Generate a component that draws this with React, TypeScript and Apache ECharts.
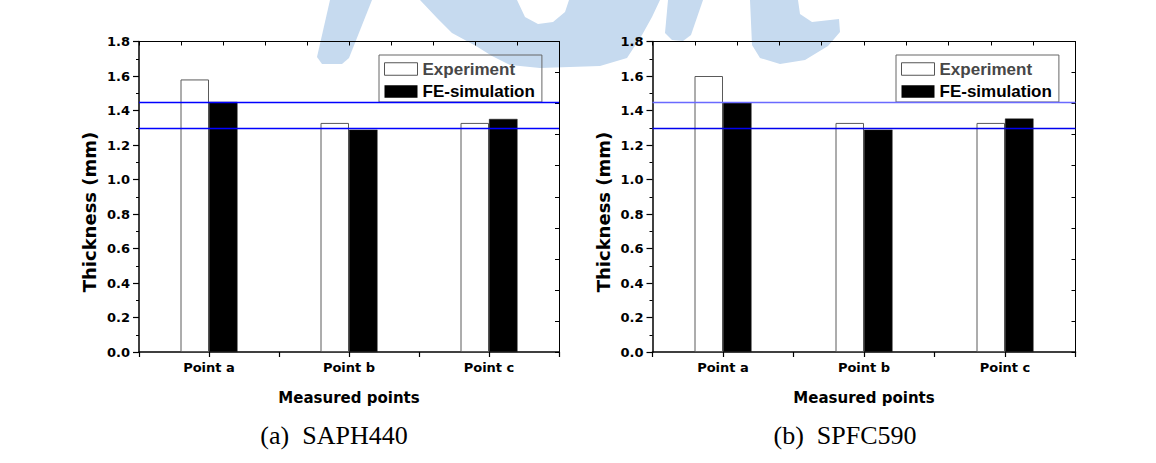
import React, { useEffect, useRef } from 'react';
import * as echarts from 'echarts';

// ---------- data ----------
const categories = ['Point a', 'Point b', 'Point c'];
const saphExperiment = [1.58, 1.328, 1.328];
const saphSimulation = [1.45, 1.289, 1.351];
const spfcExperiment = [1.6, 1.328, 1.328];
const spfcSimulation = [1.446, 1.289, 1.353];
const referenceLines = [1.45, 1.3];
const seriesNames = ['Experiment', 'FE-simulation'];
const captions = ['(a)  SAPH440', '(b)  SPFC590'];
const yAxisTitle = 'Thickness (mm)';
const xAxisTitle = 'Measured points';

const FONT = '"Liberation Sans", Arial, sans-serif';
const AXFONT = '"DejaVu Sans", Verdana, sans-serif';

const grids = [
  { left: 139, top: 41.5, width: 420, height: 310.5 },
  { left: 652.5, top: 41.5, width: 423, height: 310.5 },
];
const legendPos = [
  { left: 379, top: 55 },
  { left: 896, top: 55 },
];
const captionPos = [
  { x: 334, y: 435 },
  { x: 845, y: 435 },
];
const yTitlePos = [
  { x: 89, y: 212 },
  { x: 603, y: 212 },
];
const refLineColors = [
  ['#0000ff', '#0000ff'],
  ['#6a6aff', '#0000ee'],
];

const watermarkShapes: number[][][] = [
  [[330, 0], [372, 0], [349, 58], [342, 64], [322, 64], [317, 57]],
  [
    [420, 0], [437, 18], [452, 33], [476, 46], [492, 56], [510, 65], [540, 68],
    [600, 66], [627, 58], [642, 35], [652, 17], [660, 0],
    [569, 0], [565, 12], [553, 22], [538, 24], [525, 17], [517, 0],
  ],
  [[668, 0], [703, 0], [691, 35], [683, 41], [672, 40], [665, 33]],
  [
    [750, 0], [798, 0], [800, 14], [812, 22], [839, 19], [840, 32], [828, 46],
    [805, 60], [780, 64], [760, 58], [752, 45],
  ],
];

function buildOption() {
  const datasets = [
    [saphExperiment, saphSimulation],
    [spfcExperiment, spfcSimulation],
  ];
  const xAxis: any[] = [];
  const yAxis: any[] = [];
  const series: any[] = [];
  const legend: any[] = [];
  const graphic: any[] = [];

  grids.forEach((g, gi) => {
    xAxis.push({
      type: 'category',
      gridIndex: gi,
      data: categories,
      position: 'bottom',
      axisLine: { show: true, lineStyle: { color: '#000', width: 1.5 } },
      axisTick: { show: true, length: 5, lineStyle: { color: '#000', width: 1.2 } },
      axisLabel: { color: '#000', fontFamily: AXFONT, fontWeight: 'bold', fontSize: 13, margin: 9 },
      name: xAxisTitle,
      nameLocation: 'middle',
      nameGap: 38,
      nameTextStyle: { color: '#000', fontFamily: AXFONT, fontWeight: 'bold', fontSize: 15 },
      splitLine: { show: false },
    });
    xAxis.push({
      type: 'category',
      gridIndex: gi,
      data: categories,
      position: 'bottom',
      axisLine: { show: false },
      axisTick: { show: true, alignWithLabel: true, length: 5, lineStyle: { color: '#000', width: 1.2 } },
      axisLabel: { show: false },
      splitLine: { show: false },
    });
    xAxis.push({
      type: 'value',
      gridIndex: gi,
      position: 'top',
      min: 0,
      max: 10,
      interval: 1,
      axisLine: { show: true, lineStyle: { color: '#000', width: 1 } },
      axisTick: { show: true, inside: true, length: 4, lineStyle: { color: '#000', width: 1 } },
      axisLabel: { show: false },
      splitLine: { show: false },
    });
    yAxis.push({
      type: 'value',
      gridIndex: gi,
      position: 'left',
      min: 0,
      max: 1.8,
      interval: 0.2,
      axisLine: { show: true, lineStyle: { color: '#000', width: 1.5 } },
      axisTick: { show: true, length: 6, lineStyle: { color: '#000', width: 1.2 } },
      minorTick: { show: true, splitNumber: 2, length: 3, lineStyle: { color: '#000', width: 1 } },
      axisLabel: {
        color: '#000',
        fontFamily: AXFONT,
        fontWeight: 'bold',
        fontSize: 13,
        margin: 9,
        formatter: (v: number) => v.toFixed(1),
      },
      splitLine: { show: false },
    });
    yAxis.push({
      type: 'value',
      gridIndex: gi,
      position: 'right',
      min: 0,
      max: 10,
      interval: 1,
      axisLine: { show: true, lineStyle: { color: '#000', width: 1 } },
      axisTick: { show: true, inside: true, length: 4, lineStyle: { color: '#000', width: 1 } },
      axisLabel: { show: false },
      splitLine: { show: false },
    });

    const [exp, sim] = datasets[gi];
    series.push({
      name: seriesNames[0],
      type: 'bar',
      xAxisIndex: gi * 3,
      yAxisIndex: gi * 2,
      data: exp,
      barWidth: 28.5,
      barGap: '0%',
      itemStyle: { color: '#ffffff', borderColor: '#5a5a5a', borderWidth: 1 },
    });
    series.push({
      name: seriesNames[1],
      type: 'bar',
      xAxisIndex: gi * 3,
      yAxisIndex: gi * 2,
      data: sim,
      barWidth: 28.5,
      barGap: '0%',
      itemStyle: { color: '#000000', borderColor: '#222', borderWidth: 0.5 },
      markLine: {
        silent: true,
        symbol: 'none',
        label: { show: false },
        emphasis: { disabled: true },
        data: referenceLines.map((v, i) => ({
          yAxis: v,
          lineStyle: { color: refLineColors[gi][i], width: 1.4, type: 'solid' },
        })),
      },
    });

    legend.push({
      ...legendPos[gi],
      orient: 'vertical',
      itemWidth: 33,
      itemHeight: 12.5,
      itemGap: 5.5,
      padding: [5.5, 7, 2, 5],
      borderColor: '#666',
      borderWidth: 1,
      backgroundColor: 'transparent',
      selectedMode: false,
      textStyle: { fontFamily: FONT, fontWeight: 'bold', fontSize: 17, color: '#000' },
      data: [
        {
          name: seriesNames[0],
          icon: 'rect',
          itemStyle: { color: '#fff', borderColor: '#555', borderWidth: 1 },
          textStyle: { color: '#474747' },
        },
        {
          name: seriesNames[1],
          icon: 'rect',
          itemStyle: { color: '#000', borderWidth: 0 },
          textStyle: { color: '#000' },
        },
      ],
    });

    graphic.push({
      type: 'text',
      x: yTitlePos[gi].x,
      y: yTitlePos[gi].y,
      rotation: Math.PI / 2,
      silent: true,
      style: {
        text: yAxisTitle,
        fill: '#000',
        font: 'bold 18px "DejaVu Sans", Verdana, sans-serif',
        align: 'center',
        verticalAlign: 'middle',
      },
    });

    graphic.push({
      type: 'text',
      x: captionPos[gi].x,
      y: captionPos[gi].y,
      silent: true,
      style: {
        text: captions[gi],
        fill: '#000',
        font: '26px "Liberation Serif", "Times New Roman", serif',
        align: 'center',
        verticalAlign: 'middle',
      },
    });
  });

  watermarkShapes.forEach((pts) => {
    graphic.push({
      type: 'polygon',
      z: -10,
      silent: true,
      shape: { points: pts },
      style: { fill: '#c6daef' },
    });
  });

  return {
    animation: false,
    backgroundColor: '#ffffff',
    grid: grids,
    xAxis,
    yAxis,
    series,
    legend,
    graphic,
  };
}

export default function App() {
  const ref = useRef<HTMLDivElement>(null);
  useEffect(() => {
    document.body.style.margin = '0';
    if (!ref.current) return;
    const chart = echarts.init(ref.current, undefined, { renderer: 'svg' });
    chart.setOption(buildOption() as any);
    return () => chart.dispose();
  }, []);
  return <div ref={ref} style={{ width: 1156, height: 463 }} />;
}
